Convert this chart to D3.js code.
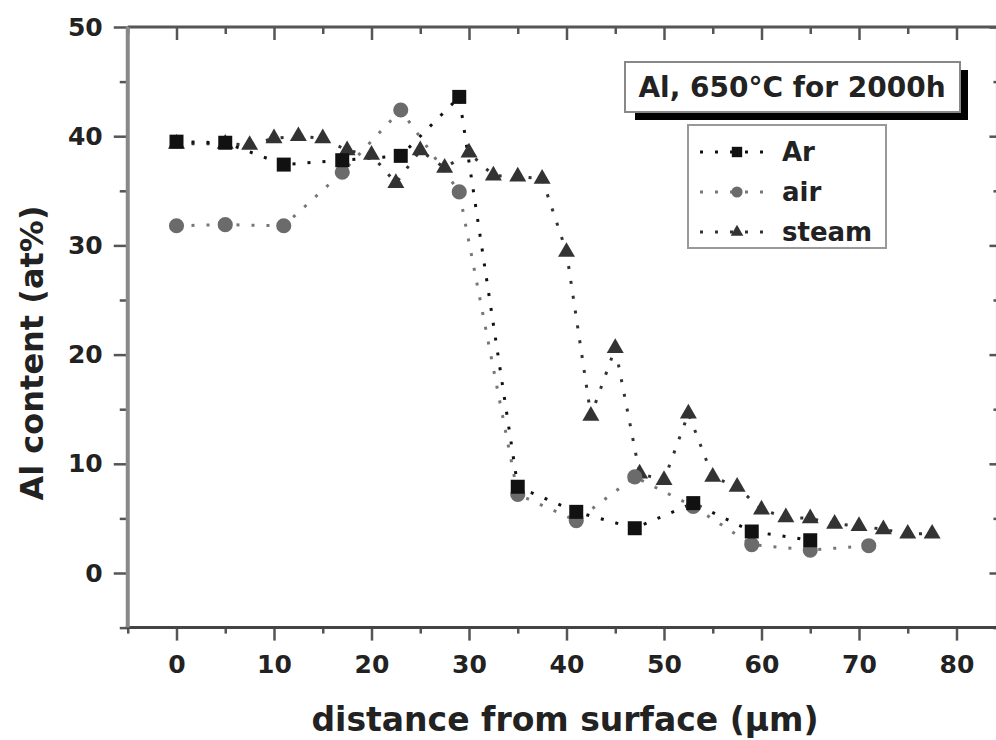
<!DOCTYPE html>
<html>
<head>
<meta charset="utf-8">
<script src="https://cdn.jsdelivr.net/npm/d3@7"></script>
<style>
  body { margin: 0; background: #fff; }
  text { font-family: "DejaVu Sans", sans-serif; font-weight: bold; fill: #222; }
</style>
</head>
<body>
<div id="chart"></div>
<script>
// data (distance in um, Al content in at%)
var arX = [0, 5, 11, 17, 23, 29, 35, 41, 47, 53, 59, 65];
var arY = [39.5, 39.4, 37.4, 37.8, 38.2, 43.6, 7.9, 5.6, 4.1, 6.4, 3.8, 3.0];

var airX = [0, 5, 11, 17, 23, 29, 35, 41, 47, 53, 59, 65, 71];
var airY = [31.8, 31.9, 31.8, 36.7, 42.4, 34.9, 7.2, 4.8, 8.8, 6.1, 2.6, 2.1, 2.5];

var steamX = [0, 5, 7.5, 10, 12.5, 15, 17.5, 20, 22.5, 25, 27.5, 30, 32.5, 35, 37.5, 40,
  42.5, 45, 47.5, 50, 52.5, 55, 57.5, 60, 62.5, 65, 67.5, 70, 72.5, 75, 77.5];
var steamY = [39.3, 39.3, 39.2, 39.8, 40.0, 39.8, 38.7, 38.3, 35.7, 38.7, 37.1, 38.5, 36.4, 36.3, 36.1, 29.4,
  14.4, 20.6, 9.1, 8.5, 14.6, 8.8, 7.9, 5.8, 5.1, 5.0, 4.5, 4.3, 4.0, 3.6, 3.6];

var xMajor = [0, 10, 20, 30, 40, 50, 60, 70, 80];
var xMinor = [-5, 5, 15, 25, 35, 45, 55, 65, 75];
var yMajor = [0, 10, 20, 30, 40, 50];
var yMinor = [-5, 5, 15, 25, 35, 45];

var seriesNames = ["Ar", "air", "steam"];
var titleText = "Al, 650\u00B0C for 2000h";

var width = 996, height = 740;

var svg = d3.select("#chart")
    .append("svg")
    .attr("width", width)
    .attr("height", height);

var x = d3.scaleLinear().domain([0, 80]).range([176.5, 956.5]);
var y = d3.scaleLinear().domain([0, 50]).range([573, 27]);

var frameLeft = x(-5), frameRight = x(84.2), frameTop = y(50), frameBottom = y(-5);

// ticks
function styleTicks(g) {
  g.select(".domain").remove();
  g.selectAll(".tick line").attr("stroke", "#555").attr("stroke-width", 2.5);
  g.selectAll("text").attr("font-size", "25px").attr("fill", "#222");
}

svg.append("g")
    .attr("transform", "translate(0," + frameBottom + ")")
    .call(d3.axisBottom(x).tickValues(xMajor).tickSize(13).tickPadding(15).tickFormat(d3.format("d")))
    .call(styleTicks);
svg.append("g")
    .attr("transform", "translate(0," + frameBottom + ")")
    .call(d3.axisBottom(x).tickValues(xMinor).tickSize(6).tickFormat(""))
    .call(styleTicks);
svg.append("g")
    .attr("transform", "translate(0," + frameTop + ")")
    .call(d3.axisTop(x).tickValues(xMajor).tickSize(-13).tickFormat(""))
    .call(styleTicks);
svg.append("g")
    .attr("transform", "translate(0," + frameTop + ")")
    .call(d3.axisTop(x).tickValues(xMinor).tickSize(-7).tickFormat(""))
    .call(styleTicks);

svg.append("g")
    .attr("transform", "translate(" + frameLeft + ",0)")
    .call(d3.axisLeft(y).tickValues(yMajor).tickSize(14).tickPadding(11).tickFormat(d3.format("d")))
    .call(styleTicks);
svg.append("g")
    .attr("transform", "translate(" + frameLeft + ",0)")
    .call(d3.axisLeft(y).tickValues(yMinor).tickSize(8).tickFormat(""))
    .call(styleTicks);
svg.append("g")
    .attr("transform", "translate(" + frameRight + ",0)")
    .call(d3.axisRight(y).tickValues(yMajor).tickSize(-8).tickFormat(""))
    .call(styleTicks);
svg.append("g")
    .attr("transform", "translate(" + frameRight + ",0)")
    .call(d3.axisRight(y).tickValues(yMinor).tickSize(-4).tickFormat(""))
    .call(styleTicks);

// frame
svg.append("line").attr("x1", frameLeft).attr("x2", frameRight).attr("y1", frameTop).attr("y2", frameTop)
    .attr("stroke", "#555").attr("stroke-width", 3);
svg.append("line").attr("x1", frameLeft - 2).attr("x2", frameRight).attr("y1", frameBottom).attr("y2", frameBottom)
    .attr("stroke", "#444").attr("stroke-width", 3);
svg.append("line").attr("x1", frameLeft).attr("x2", frameLeft).attr("y1", frameTop).attr("y2", frameBottom)
    .attr("stroke", "#888").attr("stroke-width", 4);
svg.append("line").attr("x1", frameRight).attr("x2", frameRight).attr("y1", frameTop).attr("y2", frameBottom)
    .attr("stroke", "#555").attr("stroke-width", 3);

// axis titles
svg.append("text")
    .attr("transform", "translate(43,353) rotate(-90)")
    .attr("text-anchor", "middle")
    .attr("font-size", "32px")
    .text("Al content (at%)");

svg.append("text")
    .attr("x", 565)
    .attr("y", 731)
    .attr("text-anchor", "middle")
    .attr("font-size", "33px")
    .text("distance from surface (\u00B5m)");

// series
var line = d3.line()
    .x(function(d) { return x(d[0]); })
    .y(function(d) { return y(d[1]); });

var series = [
  { name: seriesNames[2], data: d3.zip(steamX, steamY), shape: d3.symbolTriangle, size: 125, color: "#333", lineColor: "#333" },
  { name: seriesNames[1], data: d3.zip(airX, airY), shape: d3.symbolCircle, size: 180, color: "#6b6b6b", lineColor: "#777" },
  { name: seriesNames[0], data: d3.zip(arX, arY), shape: d3.symbolSquare, size: 196, color: "#111", lineColor: "#111" }
];

series.forEach(function(s) {
  svg.append("path")
      .datum(s.data)
      .attr("d", line)
      .attr("fill", "none")
      .attr("stroke", s.lineColor)
      .attr("stroke-width", 3)
      .attr("stroke-dasharray", "3,12");
});

series.forEach(function(s) {
  svg.append("g")
      .selectAll("path")
      .data(s.data)
      .enter()
      .append("path")
          .attr("transform", function(d) { return "translate(" + x(d[0]) + "," + y(d[1]) + ")"; })
          .attr("d", d3.symbol().type(s.shape).size(s.size))
          .attr("fill", s.color);
});

// title box with shadow
svg.append("rect").attr("x", 635).attr("y", 70).attr("width", 333).attr("height", 50).attr("fill", "#000");
svg.append("rect").attr("x", 625).attr("y", 62).attr("width", 335).attr("height", 50)
    .attr("fill", "#fff").attr("stroke", "#888").attr("stroke-width", 2);
svg.append("text")
    .attr("x", 792)
    .attr("y", 97)
    .attr("text-anchor", "middle")
    .attr("font-size", "28px")
    .text(titleText);

// legend
var legend = svg.append("g");
legend.append("rect").attr("x", 688).attr("y", 125).attr("width", 198).attr("height", 123)
    .attr("fill", "#fff").attr("stroke", "#999").attr("stroke-width", 2);

var legendItems = [series[2], series[1], series[0]];
var legendY = d3.scalePoint().domain(seriesNames).range([152, 232]);

legendItems.forEach(function(s) {
  var ly = legendY(s.name);
  legend.append("line")
      .attr("x1", 700).attr("x2", 773).attr("y1", ly).attr("y2", ly)
      .attr("stroke", s.lineColor).attr("stroke-width", 3)
      .attr("stroke-dasharray", "3,12");
  legend.append("path")
      .attr("transform", "translate(737," + ly + ")")
      .attr("d", d3.symbol().type(s.shape).size(s.size * 0.55))
      .attr("fill", s.color);
  legend.append("text")
      .attr("x", 782)
      .attr("y", ly + 9)
      .attr("font-size", "26px")
      .text(s.name);
});
</script>
</body>
</html>
